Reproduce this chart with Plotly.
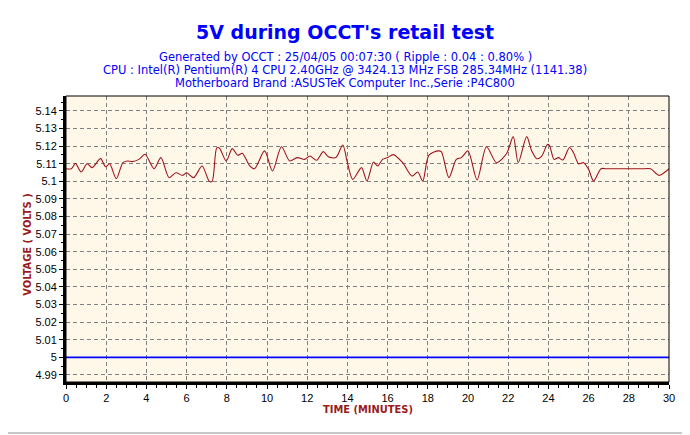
import plotly.graph_objects as go

# time in minutes / 5V rail reading in volts
minutes = [0, 0.27, 0.47, 0.75, 1.05, 1.3, 1.72, 1.97, 2.17, 2.5, 2.83, 3.05, 3.3, 3.63,
           3.93, 4.38, 4.72, 5.13, 5.47, 5.8, 6.0, 6.35, 6.77, 7.13, 7.27, 7.5, 7.63, 7.97,
           8.27, 8.55, 8.77, 9.13, 9.38, 9.88, 10.27, 10.72, 11.13, 11.5, 11.88, 12.13,
           12.47, 12.8, 13.05, 13.43, 13.77, 14.0, 14.27, 14.7, 14.97, 15.3, 15.5, 15.75,
           16.0, 16.28, 16.75, 17.22, 17.5, 17.75, 18.05, 18.5, 18.67, 19.05, 19.42, 19.67,
           20.0, 20.45, 20.92, 21.42, 21.92, 22.25, 22.5, 22.92, 23.17, 23.42, 23.67, 23.95,
           24.05, 24.28, 24.5, 24.72, 25.05, 25.25, 25.5, 25.75, 26.0, 26.25, 26.62, 26.9,
           28.8, 29.08, 29.5, 30.0]
volts = [5.1072, 5.1072, 5.1102, 5.1053, 5.1100, 5.1078, 5.1129, 5.1083, 5.1100, 5.1015,
         5.1106, 5.1116, 5.1112, 5.1125, 5.1154, 5.1072, 5.1135, 5.1021, 5.1049, 5.1034,
         5.1049, 5.1021, 5.1087, 5.1000, 5.1000, 5.1190, 5.1190, 5.1116, 5.1186, 5.1148,
         5.1160, 5.1090, 5.1072, 5.1173, 5.1059, 5.1197, 5.1116, 5.1135, 5.1125, 5.1144,
         5.1120, 5.1169, 5.1140, 5.1135, 5.1207, 5.1106, 5.1011, 5.1078, 5.1002, 5.1110,
         5.1087, 5.1125, 5.1135, 5.1152, 5.1106, 5.1030, 5.1053, 5.1002, 5.1148, 5.1173,
         5.1169, 5.1021, 5.1125, 5.1135, 5.1173, 5.1008, 5.1197, 5.1106, 5.1158, 5.1254,
         5.1106, 5.1254, 5.1173, 5.1129, 5.1144, 5.1210, 5.1205, 5.1125, 5.1135, 5.1121,
         5.1192, 5.1163, 5.1100, 5.1106, 5.1068, 5.1002, 5.1072, 5.1072, 5.1072, 5.1072,
         5.1034, 5.1072]

ref_minutes = [0, 30]
ref_volts = [5.0, 5.0]

title = "5V during OCCT's retail test"
subtitles = [
    "Generated by OCCT : 25/04/05 00:07:30 ( Ripple : 0.04 : 0.80% )",
    "CPU : Intel(R) Pentium(R) 4 CPU 2.40GHz @ 3424.13 MHz FSB 285.34MHz (1141.38)",
    "Motherboard Brand :ASUSTeK Computer Inc.,Serie :P4C800",
]

fig = go.Figure()
fig.add_trace(go.Scatter(x=ref_minutes, y=ref_volts, mode="lines",
                         line=dict(color="#0000FF", width=1.6), hoverinfo="skip"))
fig.add_trace(go.Scatter(x=minutes, y=volts, mode="lines",
                         line=dict(color="#A0141E", width=1.1, shape="spline", smoothing=0.8)))

blue = "#0000FF"
red_t = "#9B1B1B"
# texts are centred on the whole picture, not on the plot area
xc = 0.4627
ann = [dict(text="<b>" + title + "</b>", x=xc, y=1.224, font=dict(size=19, family="DejaVu Sans", color=blue))]
for i, s in enumerate(subtitles):
    ann.append(dict(text=s, x=xc, y=1.1364 - i * 0.0455,
                    font=dict(size=11.5, family="DejaVu Sans", color=blue)))
ann.append(dict(text="<b>TIME (MINUTES)</b>", x=0.5, y=-0.095,
                font=dict(size=11, family="DejaVu Sans Condensed", color=red_t)))
ann.append(dict(text="<b>VOLTAGE ( VOLTS )</b>", x=-0.063, y=0.48, textangle=-90,
                font=dict(size=11, family="DejaVu Sans Condensed", color=red_t)))
for a in ann:
    a.update(xref="paper", yref="paper", showarrow=False, xanchor="center", yanchor="middle")

# page body adds an 8px margin, so the figure is 8px smaller and shifted
fig.update_layout(
    width=682, height=427,
    margin=dict(l=58, r=21, t=88, b=53),
    paper_bgcolor="white", plot_bgcolor="#FFF8E8",
    showlegend=False,
    annotations=ann,
    font=dict(family="Liberation Sans", size=11, color="black"),
    shapes=[
        dict(type="rect", xref="paper", yref="paper", x0=0, x1=1, y0=0, y1=1,
             line=dict(color="black", width=1)),
        dict(type="line", xref="paper", yref="paper", x0=1.028, x1=1.028, y0=-0.178, y1=1.3,
             line=dict(color="#C8C8C8", width=2)),
        dict(type="line", xref="paper", yref="paper", x0=-0.2, x1=1.028, y0=-0.178, y1=-0.178,
             line=dict(color="#C8C8C8", width=2)),
    ],
)
fig.update_xaxes(range=[0, 30], dtick=2, tick0=0, showgrid=True, gridcolor="#808080",
                 griddash="4px,3px", gridwidth=1, zeroline=False,
                 showline=True, linecolor="black", linewidth=3,
                 ticks="outside", ticklen=4, tickcolor="black",
                 minor=dict(dtick=0.5, ticks="outside", ticklen=3, tickcolor="black", showgrid=False))
fig.update_yaxes(range=[4.986, 5.1485], dtick=0.01, tick0=5, showgrid=True, gridcolor="#808080",
                 griddash="4px,3px", gridwidth=1, zeroline=False,
                 showline=True, linecolor="black", linewidth=3,
                 ticks="outside", ticklen=4, tickcolor="black", tickformat="~g",
                 minor=dict(dtick=0.005, ticks="outside", ticklen=2, tickcolor="black", showgrid=False))

fig.write_html("out.html")
